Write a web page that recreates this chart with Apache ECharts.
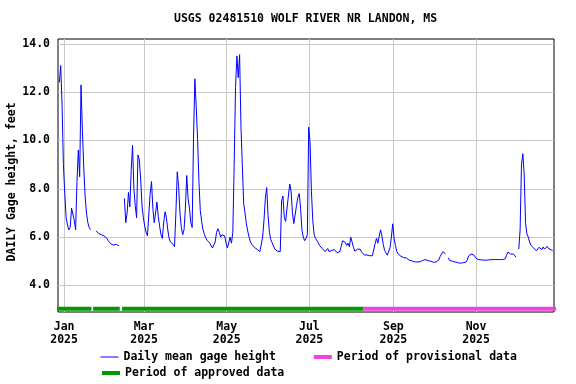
<!DOCTYPE html>
<html>
<head>
<meta charset="utf-8">
<script src="https://cdn.jsdelivr.net/npm/echarts@6/dist/echarts.min.js"></script>
<style>html,body{margin:0;padding:0;background:#fff}#c{width:576px;height:384px}</style>
</head>
<body>
<div id="c"></div>
<script>
// ---- DATA ----
const titleText = 'USGS 02481510 WOLF RIVER NR LANDON, MS';
const yAxisName = 'DAILY Gage height, feet';
const seriesNames = ['Daily mean gage height', 'Period of provisional data', 'Period of approved data'];
const firstDay = [2024, 11, 28]; // Dec 28, 2024 (year, monthIndex, day)
// daily mean gage height, feet (null = no data)
const gageHeight = [
  12.4, 13.1, 11.5, 9.0,
  7.8, 6.8, 6.5, 6.3, 6.4, 7.2, 7.2, 6.7, 6.3, 8.3,
  9.6, 8.5, 12.3, 10.4, 8.9, 7.7, 7.0, 6.6, 6.4, 6.3,
  null, null, null, 6.26, 6.2, 6.15, 6.1, 6.1, 6.1, 6.05,
  6.0, 5.95, 5.85, 5.8, 5.72, 5.68, 5.67, 5.7, 5.7, 5.7,
  5.64, null, null, null, 7.6, 6.6, 7.0, 7.85, 7.25, 8.75,
  9.8, 8.0, 7.3, 6.8, 9.4, 9.2, 8.4, 7.3, 6.8, 6.45,
  6.2, 6.05, 6.0, 7.8, 8.3, 7.2, 6.6, 7.0, 7.45, 6.85,
  6.45, 6.1, 5.95, 6.6, 7.05, 6.8, 6.3, 5.95, 5.8, 5.75,
  5.7, 5.6, 7.0, 8.7, 8.1, 7.0, 6.4, 6.1, 6.3, 7.2,
  8.55, 7.6, 7.2, 6.6, 6.4, 10.1, 12.55, 11.4, 10.05, 8.3,
  7.1, 6.65, 6.3, 6.12, 5.97, 5.87, 5.8, 5.75, 5.67, 5.55,
  5.53, 5.8, 6.2, 6.35, 6.2, 6.0, 6.1, 6.15, 6.05, 5.75,
  5.55, 5.6, 6.0, 5.75, 6.2, 9.0, 12.2, 13.5, 12.6, 13.55,
  10.6, 9.0, 7.4, 7.0, 6.55, 6.25, 6.0, 5.8, 5.7, 5.63,
  5.57, 5.53, 5.49, 5.45, 5.4, 5.4, 6.0, 6.7, 7.6, 8.05,
  6.9, 6.2, 5.9, 5.77, 5.63, 5.5, 5.47, 5.42, 5.4, 5.4,
  7.5, 7.7, 6.8, 6.65, 7.2, 7.7, 8.2, 7.9, 7.0, 6.56,
  6.63, 7.3, 7.65, 7.8, 7.2, 6.3, 6.0, 5.85, 5.95, 6.1,
  10.55, 9.9, 7.9, 6.7, 6.1, 5.95, 5.88, 5.78, 5.65, 5.58,
  5.53, 5.45, 5.4, 5.42, 5.53, 5.4, 5.47, 5.45, 5.5, 5.48,
  5.42, 5.35, 5.33, 5.4, 5.33, 5.85, 5.92, 5.78, 5.65, 5.75,
  5.6, 6.0, 5.8, 5.58, 5.42, 5.4, 5.5, 5.53, 5.5, 5.38,
  5.3, 5.26, 5.26, 5.26, 5.25, 5.23, 5.24, 5.23, 5.3, 5.73,
  5.95, 5.75, 5.67, 6.3, 6.05, 5.7, 5.45, 5.35, 5.25, 5.3,
  5.56, 6.0, 6.55, 5.95, 5.65, 5.4, 5.3, 5.25, 5.21, 5.18,
  5.15, 5.14, 5.14, 5.12, 5.05, 5.03, 5.02, 5.0, 4.98, 4.96,
  4.97, 4.97, 4.98, 5.0, 5.03, 5.06, 5.07, 5.05, 5.03, 5.06,
  5.0, 4.98, 4.96, 4.97, 4.97, 4.97, 5.05, 5.2, 5.3, 5.4,
  5.45, 5.3, null, 5.14, 5.03, 5.03, 5.0, 4.98, 4.97, 4.95,
  4.94, 4.94, 4.92, 4.92, 4.94, 4.94, 4.96, 5.05, 5.22, 5.26,
  5.3, 5.34, 5.25, 5.16, 5.1, 5.07, 5.07, 5.06, 5.06, 5.05,
  5.04, 5.04, 5.05, 5.06, 5.07, 5.07, 5.07, 5.07, 5.07, 5.07,
  5.07, 5.07, 5.07, 5.07, 5.07, 5.1, 5.25, 5.38, 5.33, 5.3,
  5.34, 5.3, 5.22, 5.17, null, 5.5, 6.3, 9.0, 9.45, 8.6,
  6.6, 6.14, 6.0, 5.8, 5.66, 5.59, 5.55, 5.52, 5.43, 5.5,
  5.58, 5.5, 5.48, 5.59, 5.5, 5.58, 5.62, 5.52, 5.5, 5.47, 5.43
];
// approval periods [start, end] as [y, m, d, h]
const approvedPeriods = [
  [[2024, 11, 27, 0], [2025, 0, 21, 5]],
  [[2025, 0, 22, 10], [2025, 1, 11, 2]],
  [[2025, 1, 12, 19], [2025, 7, 9, 18]]
];
const provisionalPeriods = [
  [[2025, 7, 9, 18], [2025, 11, 30, 0]]
];
const xTickDates = [[2025, 0, 1], [2025, 2, 1], [2025, 4, 1], [2025, 6, 1], [2025, 8, 1], [2025, 10, 1]];
const yTickValues = [4, 6, 8, 10, 12, 14];
const monthNames = ['Jan','Feb','Mar','Apr','May','Jun','Jul','Aug','Sep','Oct','Nov','Dec'];

// ---- BUILD ----
const ts = a => new Date(a[0], a[1], a[2], a[3] || 0).getTime();
const gageData = gageHeight.map((v, i) => [new Date(firstDay[0], firstDay[1], firstDay[2] + i, 12).getTime(), v === null ? '-' : v]);
const BAR_LEVEL = 3.03;
function periodData(periods) {
  const out = [];
  periods.forEach((p, i) => {
    if (i > 0) out.push([(ts(periods[i - 1][1]) + ts(p[0])) / 2, '-']);
    out.push([ts(p[0]), BAR_LEVEL], [ts(p[1]), BAR_LEVEL]);
  });
  return out;
}
const FONT = 'DejaVu Sans Mono';
const txt = { fontFamily: FONT, fontWeight: 'bold', fontSize: 11.5, color: '#000' };
const legendBase = { itemWidth: 18, itemHeight: 12, textStyle: Object.assign({}, txt), padding: 0,
  itemStyle: { color: 'rgba(0,0,0,0)', borderWidth: 0 } };

const chart = echarts.init(document.getElementById('c'), null, { renderer: 'canvas' });
chart.setOption({
  animation: false,
  backgroundColor: '#fff',
  title: { text: titleText, left: 174, top: 13, textStyle: Object.assign({}, txt), padding: 0 },
  graphic: [{
    type: 'text', x: 12, y: 182, rotation: Math.PI / 2, silent: true,
    style: { text: yAxisName, font: 'bold 11.5px "DejaVu Sans Mono"', fill: '#000', align: 'center', verticalAlign: 'middle' }
  }],
  grid: { left: 58, top: 39, width: 496, height: 273, show: true, borderColor: '#000', borderWidth: 1,
    backgroundColor: 'transparent', containLabel: false, outerBoundsMode: 'none' },
  legend: [
    Object.assign({}, legendBase, { left: 100, top: 351, itemGap: 36, data: [
      { name: seriesNames[0], lineStyle: { width: 1 } },
      { name: seriesNames[1], lineStyle: { width: 4, cap: 'butt' } }
    ] }),
    Object.assign({}, legendBase, { left: 100, top: 367, data: [
      { name: seriesNames[2], lineStyle: { width: 4, cap: 'butt' } }
    ] })
  ],
  xAxis: {
    type: 'value',
    min: new Date(2024, 11, 27, 12).getTime(),
    max: new Date(2025, 11, 28, 12).getTime(),
    axisLine: { show: false },
    axisTick: { show: false, customValues: xTickDates.map(ts) },
    axisLabel: {
      customValues: xTickDates.map(ts),
      formatter: v => { const d = new Date(v); return monthNames[d.getMonth()] + '\n' + d.getFullYear(); },
      fontFamily: FONT, fontWeight: 'bold', fontSize: 11.5, color: '#000', lineHeight: 13, margin: 9
    },
    splitLine: { show: true, lineStyle: { color: '#c8c8c8', width: 1 } }
  },
  yAxis: {
    type: 'value', min: 2.9, max: 14.2,
    axisLine: { show: false },
    axisTick: { show: false, customValues: yTickValues },
    axisLabel: { customValues: yTickValues, formatter: v => v.toFixed(1), fontFamily: FONT, fontWeight: 'bold', fontSize: 11.5, color: '#000', margin: 8 },
    splitLine: { show: true, lineStyle: { color: '#c8c8c8', width: 1 } }
  },
  series: [
    { name: seriesNames[0], type: 'line', data: gageData, symbol: 'none', connectNulls: false,
      lineStyle: { color: '#0000ff', width: 1 }, itemStyle: { color: '#0000ff' }, z: 3 },
    { name: seriesNames[1], type: 'line', data: periodData(provisionalPeriods), symbol: 'none',
      lineStyle: { color: '#ee44dd', width: 4, cap: 'butt' }, itemStyle: { color: '#ee44dd' }, z: 2 },
    { name: seriesNames[2], type: 'line', data: periodData(approvedPeriods), symbol: 'none',
      lineStyle: { color: '#009900', width: 4, cap: 'butt' }, itemStyle: { color: '#009900' }, z: 2 }
  ]
});
</script>
</body>
</html>
